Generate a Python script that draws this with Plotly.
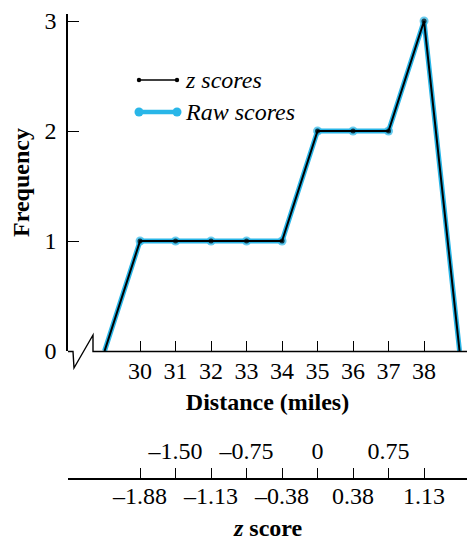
import plotly.graph_objects as go

# Frequency polygon of commute distances
distance = [29, 30, 31, 32, 33, 34, 35, 36, 37, 38, 39]
frequency = [0, 1, 1, 1, 1, 1, 2, 2, 2, 3, 0]

distance_ticks = [30, 31, 32, 33, 34, 35, 36, 37, 38]
freq_ticks = [0, 1, 2, 3]

# z-score scale drawn under the distance axis
z_upper_pos = [31, 33, 35, 37]
z_upper_labels = ["–1.50", "–0.75", "0", "0.75"]
z_lower_pos = [30, 32, 34, 36, 38]
z_lower_labels = ["–1.88", "–1.13", "–0.38", "0.38", "1.13"]

CYAN = "#29B6E8"
FONT = "Liberation Serif"
FS = 24
W, H = 467, 542
ML, MR, MT, MB = 68, 0, 14, 0
PW, PH = W - ML - MR, H - MT - MB


def px(x):
    return (x - ML) / PW


def py(y):
    return (H - MB - y) / PH


y_dom_bottom = py(351)
z_axis_pos = py(479)

fig = go.Figure()

fig.add_trace(go.Scatter(
    x=distance, y=frequency, mode="lines+markers",
    line=dict(color=CYAN, width=5),
    marker=dict(color=CYAN, size=[0] + [9] * 9 + [0], line=dict(width=0)),
    showlegend=False, cliponaxis=False, hoverinfo="skip",
))
fig.add_trace(go.Scatter(
    x=distance, y=frequency, mode="lines+markers",
    line=dict(color="black", width=2),
    marker=dict(color="black", size=[0] + [5] * 9 + [0], line=dict(width=0)),
    showlegend=False, cliponaxis=False, hoverinfo="skip",
))

# Dummy traces so the extra axes get drawn
fig.add_trace(go.Scatter(x=[], y=[], xaxis="x2", yaxis="y", showlegend=False))
fig.add_trace(go.Scatter(x=[], y=[], xaxis="x3", yaxis="y", showlegend=False))

xrange = [27.97, 39.21]
tickfont = dict(family=FONT, size=FS, color="black")

fig.update_layout(
    width=W, height=H,
    margin=dict(l=ML, r=MR, t=MT, b=MB, autoexpand=False),
    paper_bgcolor="white", plot_bgcolor="white",
    font=dict(family=FONT, color="black"),
    xaxis=dict(
        domain=[0, 1], anchor="y", range=xrange,
        showline=False, showgrid=False, zeroline=False,
        tickvals=distance_ticks, ticktext=[str(v) for v in distance_ticks],
        ticks="inside", ticklen=10, tickwidth=1.3, tickcolor="black",
        tickfont=tickfont, ticklabelstandoff=3,
        title=dict(text="<b>Distance (miles)</b>",
                   font=dict(family=FONT, size=FS), standoff=10),
    ),
    yaxis=dict(
        domain=[y_dom_bottom, 1], range=[0, 3.064],
        showline=True, linecolor="black", linewidth=1.5,
        showgrid=False, zeroline=False,
        tickvals=freq_ticks, ticktext=[str(v) for v in freq_ticks],
        ticks="inside", ticklen=11, tickwidth=1.3, tickcolor="black",
        tickfont=tickfont, ticklabelstandoff=5,
        title=dict(text="<b>Frequency</b>",
                   font=dict(family=FONT, size=FS), standoff=8),
    ),
    xaxis2=dict(
        anchor="free", position=z_axis_pos, overlaying="x", matches="x",
        range=xrange, side="bottom",
        showline=True, linecolor="black", linewidth=1.5,
        showgrid=False, zeroline=False,
        tickvals=distance_ticks,
        ticktext=[z_lower_labels[z_lower_pos.index(v)] if v in z_lower_pos else ""
                  for v in distance_ticks],
        ticks="inside", ticklen=10, tickwidth=1.3, tickcolor="black",
        tickfont=tickfont, ticklabelstandoff=-5,
    ),
    xaxis3=dict(
        anchor="free", position=z_axis_pos, overlaying="x", matches="x",
        range=xrange, side="top",
        showline=False, showgrid=False, zeroline=False,
        tickvals=z_upper_pos, ticktext=z_upper_labels, ticks="",
        tickfont=tickfont, ticklabelstandoff=15,
    ),
)

# Title of the z-score scale
fig.add_annotation(text="<b><i>z</i> score</b>", xref="paper", yref="paper",
                   x=0.5, y=py(528), xanchor="center", yanchor="middle",
                   showarrow=False, font=dict(family=FONT, size=FS, color="black"))

# Distance axis line with the broken-scale zigzag near the origin
axis_path = (
    f"M {px(68)},{py(351.5)} L {px(73)},{py(351.5)} L {px(74)},{py(368)} "
    f"L {px(93)},{py(335)} L {px(93)},{py(351.5)} L {px(467)},{py(351.5)}"
)
fig.add_shape(type="path", path=axis_path, xref="paper", yref="paper",
              line=dict(color="black", width=1.4))

# Legend drawn by hand: line swatch with end dots, italic labels
legend_items = [
    ("z scores", "black", 1.5, 2.2, 80),
    ("Raw scores", CYAN, 4.5, 4.5, 112),
]
for label, color, lw, r, ly in legend_items:
    fig.add_shape(type="line", xref="paper", yref="paper",
                  x0=px(139), x1=px(177), y0=py(ly), y1=py(ly),
                  line=dict(color=color, width=lw))
    for cx in (139, 177):
        fig.add_shape(type="circle", xref="paper", yref="paper",
                      x0=px(cx - r), x1=px(cx + r), y0=py(ly + r), y1=py(ly - r),
                      fillcolor=color, line=dict(width=0))
    fig.add_annotation(text=f"<i>{label}</i>", xref="paper", yref="paper",
                       x=px(183), y=py(ly), xanchor="left", yanchor="middle",
                       showarrow=False,
                       font=dict(family=FONT, size=FS, color="black"))

fig.write_html("out.html")
